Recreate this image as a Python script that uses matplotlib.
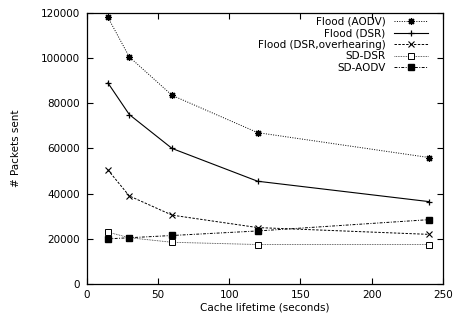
import matplotlib
matplotlib.use('Agg')
import matplotlib.pyplot as plt

# Cache lifetime (seconds)
lifetime = [15, 30, 60, 120, 240]

# Packets sent per scheme
flood_aodv = [118000, 100500, 83500, 67000, 56000]
flood_dsr = [89000, 75000, 60000, 45500, 36500]
flood_dsr_oh = [50500, 39000, 30500, 25000, 22000]
sd_dsr = [23000, 20500, 18500, 17500, 17500]
sd_aodv = [20000, 20500, 21500, 23500, 28500]

plt.rcParams['font.family'] = ['DejaVu Sans']
plt.rcParams['font.size'] = 7.5

fig = plt.figure(figsize=(4.53, 3.21), dpi=100)
ax = fig.add_axes([0.191, 0.115, 0.787, 0.845])

ax.plot(lifetime, flood_aodv, color='black', linestyle=(0, (1, 1.5)), linewidth=0.7,
        marker=(8, 2, 0), markersize=5, markeredgewidth=0.9, label='Flood (AODV)')
ax.plot(lifetime, flood_dsr, color='black', linestyle='-', linewidth=0.8,
        marker='+', markersize=5, markeredgewidth=0.9, label='Flood (DSR)')
ax.plot(lifetime, flood_dsr_oh, color='black', linestyle=(0, (2.5, 1.5)), linewidth=0.7,
        marker='x', markersize=4.5, markeredgewidth=0.8, label='Flood (DSR,overhearing)')
ax.plot(lifetime, sd_dsr, color='#333333', linestyle=(0, (1, 1)), linewidth=0.6,
        marker='s', markersize=4.2, markerfacecolor='white', markeredgecolor='black',
        markeredgewidth=0.7, label='SD-DSR')
ax.plot(lifetime, sd_aodv, color='black', linestyle=(0, (3, 1.5, 1, 1.5)), linewidth=0.7,
        marker='s', markersize=5, markerfacecolor='black', label='SD-AODV')

ax.set_xlim(0, 250)
ax.set_ylim(0, 120000)
ax.set_xticks([0, 50, 100, 150, 200, 250])
ax.set_yticks(range(0, 120001, 20000))
ax.tick_params(direction='in', top=True, right=True, length=4, width=0.8)
ax.tick_params(axis='y', pad=5)
ax.tick_params(axis='x', pad=4)
for s in ax.spines.values():
    s.set_linewidth(0.9)

ax.set_xlabel('Cache lifetime (seconds)', labelpad=2)
ax.set_ylabel('# Packets sent', labelpad=14)

leg = ax.legend(loc='upper right', bbox_to_anchor=(428 / 453, 1 - 17 / 321),
                bbox_transform=fig.transFigure, frameon=False, markerfirst=False,
                handlelength=3.3, borderpad=0, borderaxespad=0, labelspacing=0.14,
                handletextpad=0.8)
# right-align the label column (gnuplot style key)
for col in leg._legend_handle_box.get_children():
    col.align = 'right'

fig.savefig('out.png', dpi=100)
